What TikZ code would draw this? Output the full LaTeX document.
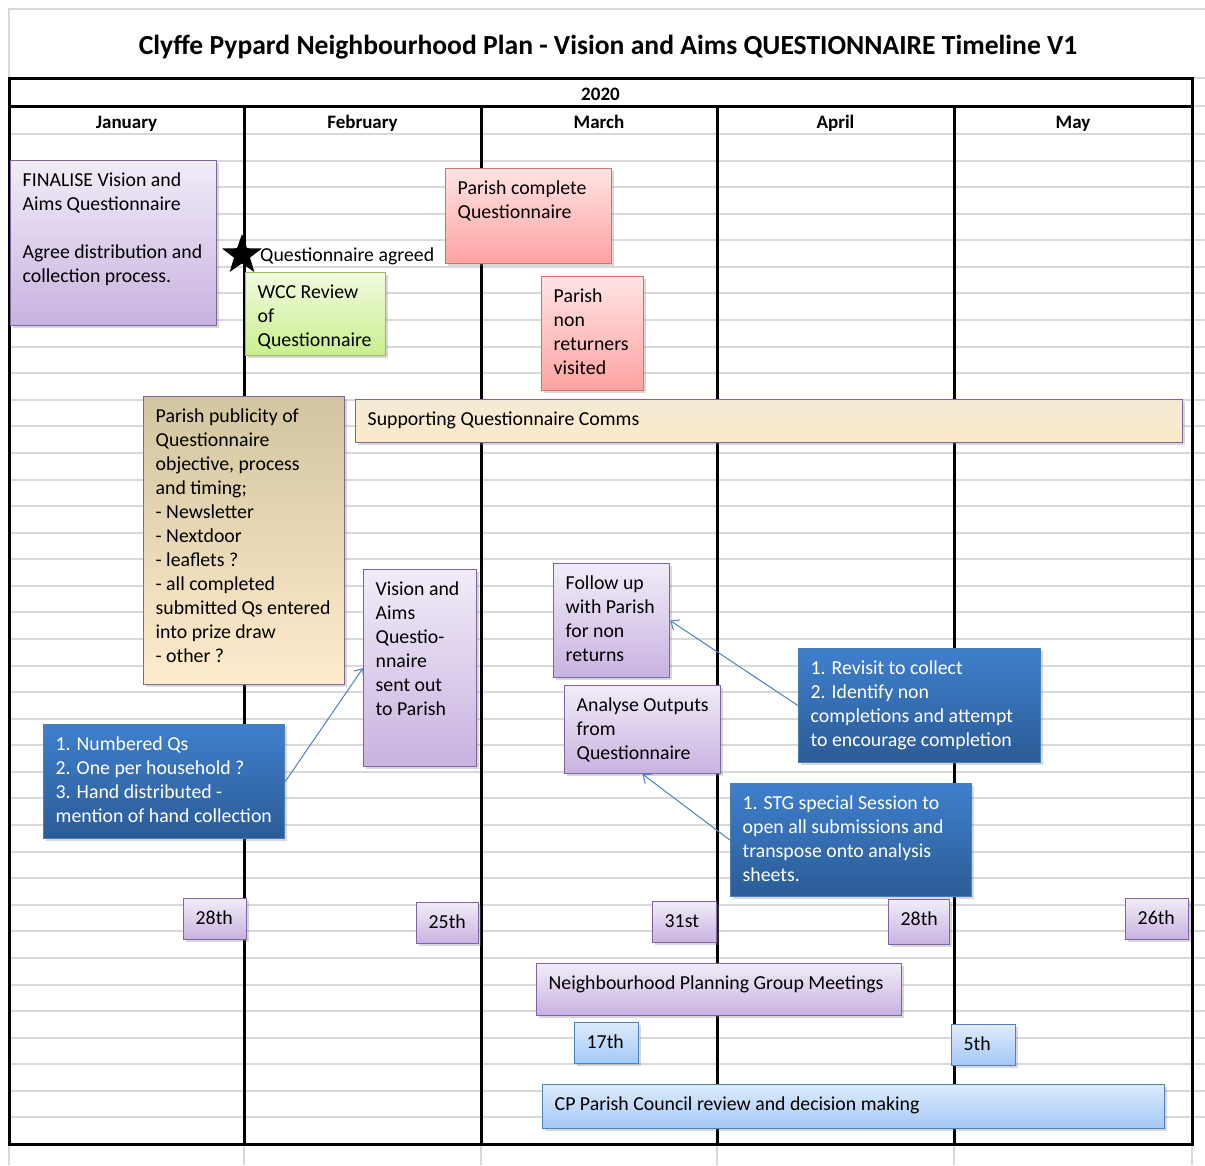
\documentclass[tikz,border=0pt]{standalone}
\usepackage{fontspec}
\setmainfont{Carlito}
\usetikzlibrary{shapes.geometric,shadows,arrows.meta}

\definecolor{gridc}{HTML}{D9D9D9}
\definecolor{purB}{HTML}{8064A2}
\definecolor{purT}{HTML}{F1ECF8}
\definecolor{purBt}{HTML}{C8B2E0}
\definecolor{redB}{HTML}{C0504D}
\definecolor{redT}{HTML}{FFE3E3}
\definecolor{redBt}{HTML}{FFA2A2}
\definecolor{grnB}{HTML}{9BBB59}
\definecolor{grnT}{HTML}{F1FADF}
\definecolor{grnBt}{HTML}{C9EF8E}
\definecolor{tanT}{HTML}{D2C59F}
\definecolor{tanBt}{HTML}{FFEBCD}
\definecolor{comT}{HTML}{F3EBD6}
\definecolor{comBt}{HTML}{FDE9C9}
\definecolor{dbT}{HTML}{3F7FCC}
\definecolor{dbBt}{HTML}{2B5C96}
\definecolor{dbB}{HTML}{4A7EBB}
\definecolor{lbT}{HTML}{DDEBFD}
\definecolor{lbBt}{HTML}{A4C8F6}
\definecolor{lbB}{HTML}{4F81BD}
\definecolor{arrc}{HTML}{4F81BD}

% single-line box
\newcommand\MyBoxNode[6]{%
  \node[#1, minimum width=#4pt, minimum height=#5pt] (#2) at #3 {};
  \node[txt, #1-t] (#2-t) at ([shift={(12.5,9)}]#2.north west) {#6};}
% multi-line box
\newcommand\MyBoxNodeML[6]{%
  \node[#1, minimum width=#4pt, minimum height=#5pt] (#2) at #3 {};
  \node[txt, #1-t] (#2-t) at ([shift={(12.5,12.5)}]#2.north west) {#6};}

\tikzset{
  bx/.style={rectangle, anchor=north west, inner sep=0pt, line width=1.2pt,
    drop shadow={shadow xshift=2pt, shadow yshift=-2pt, opacity=0.3}},
  pbox/.style={bx, draw=purB, top color=purT, bottom color=purBt},
  pbox-t/.style={},
  rbox/.style={bx, draw=redB!80, top color=redT, bottom color=redBt},
  rbox-t/.style={},
  gbox/.style={bx, draw=grnB, top color=grnT, bottom color=grnBt},
  gbox-t/.style={},
  tbox/.style={bx, draw=purB, top color=tanT, bottom color=tanBt},
  tbox-t/.style={},
  cbox/.style={bx, draw=purB, top color=comT, bottom color=comBt},
  cbox-t/.style={},
  dbox/.style={bx, draw=dbB, top color=dbT, bottom color=dbBt},
  dbox-t/.style={text=white},
  lbox/.style={bx, draw=lbB, top color=lbT, bottom color=lbBt},
  lbox-t/.style={},
  txt/.style={anchor=north west, inner sep=0pt, align=left,
    font=\fontsize{19.8}{24}\selectfont, execute at begin node=\strut},
  hdr/.style={anchor=base, font=\fontsize{19}{23}\selectfont\bfseries},
  arr/.style={draw=arrc, line width=1pt, -{Straight Barb[length=7pt,width=12pt]}},
  gline/.style={draw=gridc, line width=2pt},
}

\begin{document}
\begin{tikzpicture}[x=1pt,y=-1pt]
\useasboundingbox (0,0) rectangle (1205,1165);
\fill[white] (0,0) rectangle (1205,1165);

% light grid
\draw[gridc, line width=1.5pt] (9,1165) -- (9,9) -- (1205,9);
\draw[gline] (9,78) -- (1205,78);
\draw[gline] (9,106) -- (1205,106);
\foreach \k in {0,...,37}
  \draw[gline] (9,{134+\k*26.5789}) -- (1205,{134+\k*26.5789});
\foreach \xx in {244,481,717,954,1192}
  \draw[gline] (\xx,1144) -- (\xx,1165);

% black frame
\draw[line width=3pt] (9,78) rectangle (1192,1144);
\draw[line width=3pt] (9,106) -- (1192,106);
\foreach \xx in {244,481,717,954}
  \draw[line width=3pt] (\xx,106) -- (\xx,1144);

% title and headers
\node[anchor=base, font=\fontsize{27.6}{34}\selectfont\bfseries] (title) at (608,54)
  {Clyffe Pypard Neighbourhood Plan - Vision and Aims QUESTIONNAIRE Timeline V1};
\node[hdr] (year) at (600.5,100) {2020};
\node[hdr] (jan) at (126.5,128.3) {January};
\node[hdr] (feb) at (362.5,128.3) {February};
\node[hdr] (mar) at (599,128.3) {March};
\node[hdr] (apr) at (835.5,128.3) {April};
\node[hdr] (may) at (1073,128.3) {May};

% boxes
\MyBoxNodeML{pbox}{fin}{(10,160)}{206}{165}{FINALISE Vision and\\Aims Questionnaire\\[24pt]Agree distribution and\\collection process.}
\MyBoxNodeML{gbox}{wcc}{(245,272)}{140}{83}{WCC Review\\of\\Questionnaire}
\MyBoxNodeML{rbox}{pcq}{(445,168)}{166}{95}{Parish complete\\Questionnaire}
\MyBoxNodeML{rbox}{pnr}{(541,276)}{102}{114}{Parish\\non\\returners\\visited}
\MyBoxNode{cbox}{sqc}{(355,399)}{827}{43}{Supporting Questionnaire Comms}
\MyBoxNodeML{tbox}{pub}{(143,396)}{201}{288}{Parish publicity of\\Questionnaire\\objective, process\\and timing;\\- Newsletter\\- Nextdoor\\- leaflets ?\\- all completed\\submitted Qs entered\\into prize draw\\- other ?}
\MyBoxNodeML{pbox}{vas}{(363,569)}{113}{197}{Vision and\\Aims\\Questio-\\nnaire\\sent out\\to Parish}
\MyBoxNodeML{dbox}{nq}{(43,724)}{241}{114}{1. Numbered Qs\\2. One per household ?\\3. Hand distributed -\\mention of hand collection}
\MyBoxNodeML{pbox}{fu}{(553,563)}{116}{114}{Follow up\\with Parish\\for non\\returns}
\MyBoxNodeML{pbox}{ao}{(564,685)}{156}{88}{Analyse Outputs\\from\\Questionnaire}
\MyBoxNodeML{dbox}{rv}{(798,648)}{242}{114}{1. Revisit to collect\\2. Identify non\\completions and attempt\\to encourage completion}
\MyBoxNodeML{dbox}{stg}{(730,783)}{241}{113}{1. STG special Session to\\open all submissions and\\transpose onto analysis\\sheets.}

% dates
\MyBoxNode{pbox}{da}{(183,898)}{63}{41}{28th}
\MyBoxNode{pbox}{db}{(416,902)}{62}{41}{25th}
\MyBoxNode{pbox}{dc}{(652,901)}{64}{41}{31st}
\MyBoxNode{pbox}{dd}{(888,899)}{61}{45}{28th}
\MyBoxNode{pbox}{de}{(1125,898)}{63}{41}{26th}
\MyBoxNode{pbox}{npg}{(536,963)}{365}{52}{Neighbourhood Planning Group Meetings}
\MyBoxNode{lbox}{df}{(574,1022)}{64}{41}{17th}
\MyBoxNode{lbox}{dg}{(951,1024)}{64}{41}{5th}
\MyBoxNode{lbox}{cpp}{(542,1084)}{622}{44}{CP Parish Council review and decision making}

% star milestone
\node[star, star points=5, star point ratio=2.5, minimum size=42pt, fill=black, inner sep=0pt] (star) at (242,255) {};
\node[anchor=base west, inner sep=0pt, font=\fontsize{19.8}{24}\selectfont] (qa) at (260,261.5) {Questionnaire agreed};

% connectors
\draw[arr] (nq.east) -- (vas.west);
\draw[arr] (rv.west) -- (fu.east);
\draw[arr] (stg.west) -- (ao.south);
\end{tikzpicture}
\end{document}
